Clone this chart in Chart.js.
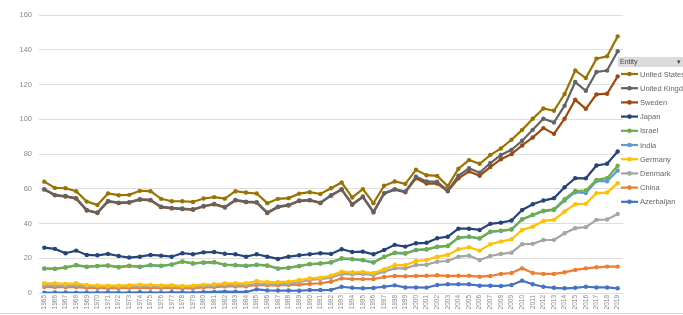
<!DOCTYPE html>
<html>
<head>
<title>Entity chart</title>
<script src="https://cdn.jsdelivr.net/npm/chart.js"></script>
<style>
  body { margin: 0; background: #fff; }
</style>
</head>
<body>
<canvas id="myLineChart" width="683" height="315"></canvas>
<script>
// years on the x axis
const years = ['1965','1966','1967','1968','1969','1970','1971','1972','1973','1974',
  '1975','1976','1977','1978','1979','1980','1981','1982','1983','1984',
  '1985','1986','1987','1988','1989','1990','1991','1992','1993','1994',
  '1995','1996','1997','1998','1999','2000','2001','2002','2003','2004',
  '2005','2006','2007','2008','2009','2010','2011','2012','2013','2014',
  '2015','2016','2017','2018','2019'];

const unitedStates = [64.1,60.5,60.3,58.6,52.6,50.7,57.3,56.3,56.5,58.8,58.6,54.2,52.8,52.8,52.4,54.4,55.2,54.3,
  58.6,57.8,57.3,51.7,54.2,54.6,57.2,58.0,57.0,60.3,63.6,55.0,59.8,51.7,61.7,64.2,62.8,70.9,67.8,67.4,
  61.5,71.5,76.5,74.4,79.4,83.2,88.2,93.9,100.3,106.2,104.9,114.5,128.1,123.7,134.9,136.2,147.7];
const unitedKingdom = [59.8,56.5,55.8,54.6,47.8,46.3,53.0,52.0,52.3,54.0,53.6,49.7,49.0,48.6,48.2,50.1,51.3,49.5,
  53.6,52.6,52.3,46.3,49.7,50.7,53.2,53.6,52.0,56.3,59.8,51.1,55.5,46.7,57.5,59.8,58.4,67.0,64.2,64.0,
  59.0,67.5,71.8,69.2,74.8,79.4,82.4,87.6,93.9,100.3,98.2,107.8,121.4,116.4,127.2,128.0,139.1];
const sweden = [59.5,56.2,55.5,54.3,47.5,46.0,52.7,51.7,52.0,53.7,53.3,49.4,48.7,48.3,47.9,49.8,51.0,49.2,
  53.3,52.3,52.0,46.0,49.4,50.4,52.9,53.3,51.7,56.0,59.5,50.8,55.2,46.4,57.2,59.5,58.0,66.0,63.0,63.0,
  58.5,66.0,70.0,67.5,72.5,77.0,79.9,84.9,89.5,94.9,91.6,100.3,111.2,106.0,114.3,114.7,124.7];
const japan = [26.1,25.4,22.9,24.4,21.9,21.7,22.5,21.3,20.4,20.9,21.9,21.5,20.9,22.9,22.3,23.4,23.6,22.6,
  22.3,20.9,22.3,20.9,19.6,20.9,21.7,22.3,22.9,22.5,25.2,23.6,23.8,22.3,24.8,27.7,26.7,28.6,28.9,31.5,
  32.4,37.0,37.0,36.3,39.8,40.5,41.7,47.8,51.1,53.2,54.6,60.9,66.1,66.0,73.4,74.4,81.4];
const israel = [14.2,14.0,14.8,16.1,15.2,15.6,15.9,15.0,15.7,15.2,16.1,15.7,16.5,18.2,17.1,17.6,17.8,16.3,
  16.1,15.7,16.3,15.9,14.2,14.6,15.6,16.7,17.1,17.7,20.0,19.6,19.0,17.7,20.9,23.2,22.9,24.8,25.2,26.7,
  27.2,31.9,32.5,31.5,35.3,35.9,36.7,42.5,45.0,47.4,48.2,54.0,58.8,59.0,65.1,66.1,73.2];
const india = [14.0,13.8,14.6,15.9,15.0,15.4,15.7,14.8,15.5,15.0,15.9,15.5,16.3,18.0,16.9,17.4,17.6,16.1,
  15.9,15.5,16.1,15.7,14.0,14.4,15.4,16.5,16.9,17.5,19.8,19.4,18.8,17.5,20.7,23.0,22.7,24.6,25.0,26.5,
  27.0,31.7,32.3,31.3,35.1,35.7,36.5,42.3,44.8,47.0,47.8,53.2,58.0,57.5,64.5,64.3,70.5];
const germany = [5.6,5.6,5.2,5.6,4.6,4.3,4.2,4.2,4.5,4.8,4.6,4.4,4.5,4.0,4.2,4.8,5.0,5.6,
  5.6,5.6,6.9,6.3,6.3,6.5,7.5,8.4,8.8,10.0,12.3,11.9,12.1,11.5,13.6,16.1,16.1,18.4,19.0,20.9,
  21.9,25.2,26.3,24.4,28.1,29.6,30.9,36.3,38.2,41.5,42.1,46.9,51.1,51.3,57.5,57.8,63.2];
const denmark = [4.5,4.3,4.2,4.4,3.8,3.6,3.6,3.5,3.7,3.9,3.8,3.6,3.7,3.4,3.5,3.9,4.1,4.5,
  4.5,4.4,5.2,5.0,5.0,5.3,6.2,7.5,7.9,8.8,11.0,10.8,11.0,10.4,12.3,14.2,14.2,16.1,16.3,18.0,
  18.4,20.9,21.5,19.0,21.3,22.5,23.2,28.1,28.3,30.5,30.6,34.4,37.3,37.9,42.1,42.3,45.5];
const china = [3.5,3.4,3.3,3.4,3.0,2.9,2.8,2.8,3.0,3.1,3.0,2.9,3.0,2.7,2.8,3.2,3.4,3.8,
  3.8,3.8,4.6,4.4,4.4,4.6,4.8,5.2,5.6,6.5,8.4,8.0,8.0,8.0,9.2,9.8,9.6,9.8,9.9,10.2,
  9.8,9.9,9.9,9.4,9.8,11.0,11.5,14.2,11.5,11.0,11.0,11.9,13.3,14.2,14.8,15.2,15.2];
const azerbaijan = [0.2,0.3,0.3,0.2,0.3,0.3,0.4,0.3,0.3,0.4,0.3,0.3,0.4,0.4,0.3,0.5,0.6,0.8,
  0.7,0.6,2.1,1.5,1.4,1.4,1.3,1.7,1.7,1.8,3.6,3.0,2.7,2.9,3.6,4.4,3.2,3.2,3.1,4.6,
  5.0,5.0,5.0,4.2,4.2,4.0,4.6,7.1,5.0,3.6,3.0,2.7,3.0,3.6,3.2,3.2,2.7];

const yTicks = [0, 20, 40, 60, 80, 100, 120, 140, 160];

const series = [
  { name: 'United States', data: unitedStates, color: '#997300' },
  { name: 'United Kingdom', data: unitedKingdom, color: '#636363' },
  { name: 'Sweden', data: sweden, color: '#9E480E' },
  { name: 'Japan', data: japan, color: '#264478' },
  { name: 'Israel', data: israel, color: '#70AD47' },
  { name: 'India', data: india, color: '#5B9BD5' },
  { name: 'Germany', data: germany, color: '#FFC000' },
  { name: 'Denmark', data: denmark, color: '#A5A5A5' },
  { name: 'China', data: china, color: '#ED7D31' },
  { name: 'Azerbaijan', data: azerbaijan, color: '#4472C4' }
];

// legend drawn like the excel filter box on the right
const sideLegend = {
  id: 'sideLegend',
  afterDraw(chart) {
    const ctx = chart.ctx;
    ctx.save();
    // thin frame line along the bottom of the picture
    ctx.fillStyle = '#d6d6d6';
    ctx.fillRect(0, 313, 683, 1);
    ctx.fillStyle = '#dcdcdc';
    ctx.fillRect(618, 57, 65, 10);
    ctx.fillStyle = '#444';
    ctx.font = '7px "Liberation Sans", sans-serif';
    ctx.textBaseline = 'middle';
    ctx.fillText('Entity', 620, 62.5);
    ctx.fillText('\u25BE', 677, 62.5);
    chart.data.datasets.forEach((ds, i) => {
      const y = 74 + i * 14.2;
      ctx.strokeStyle = ds.borderColor;
      ctx.lineWidth = 2.2;
      ctx.beginPath();
      ctx.moveTo(621, y);
      ctx.lineTo(638, y);
      ctx.stroke();
      ctx.fillStyle = ds.borderColor;
      ctx.beginPath();
      ctx.arc(629.5, y, 2.3, 0, Math.PI * 2);
      ctx.fill();
      ctx.fillStyle = '#666';
      ctx.font = '7.5px "Liberation Sans", sans-serif';
      ctx.fillText(ds.label, 640, y + 0.5);
    });
    ctx.restore();
  }
};

const ctx = document.getElementById('myLineChart').getContext('2d');
const chart = new Chart(ctx, {
  type: 'line',
  data: {
    labels: years,
    datasets: series.map(s => ({
      label: s.name,
      data: s.data,
      borderColor: s.color,
      backgroundColor: s.color,
      borderWidth: 2.2,
      pointRadius: 2.2,
      pointBorderWidth: 0,
      tension: 0,
      fill: false
    }))
  },
  options: {
    responsive: false,
    animation: false,
    layout: { padding: { top: 15, right: 60, left: 0, bottom: 0 } },
    plugins: { legend: { display: false }, tooltip: { enabled: false } },
    scales: {
      x: {
        offset: true,
        grid: { display: false, drawTicks: false, tickLength: 0 },
        border: { display: false },
        ticks: {
          autoSkip: false, minRotation: 90, maxRotation: 90,
          color: '#8a8a8a', padding: 2,
          font: { size: 6.5, family: 'Liberation Sans' }
        },
        afterFit(scale) { scale.height = 22; }
      },
      y: {
        min: 0, max: 160,
        afterBuildTicks(scale) { scale.ticks = yTicks.map(v => ({ value: v })); },
        grid: { color: '#dedede', lineWidth: 1, drawTicks: false },
        border: { display: false },
        ticks: {
          color: '#8a8a8a', padding: 7,
          font: { size: 7.5, family: 'Liberation Sans' }
        },
        afterFit(scale) { scale.width = 39; }
      }
    }
  },
  plugins: [sideLegend]
});
</script>
</body>
</html>
